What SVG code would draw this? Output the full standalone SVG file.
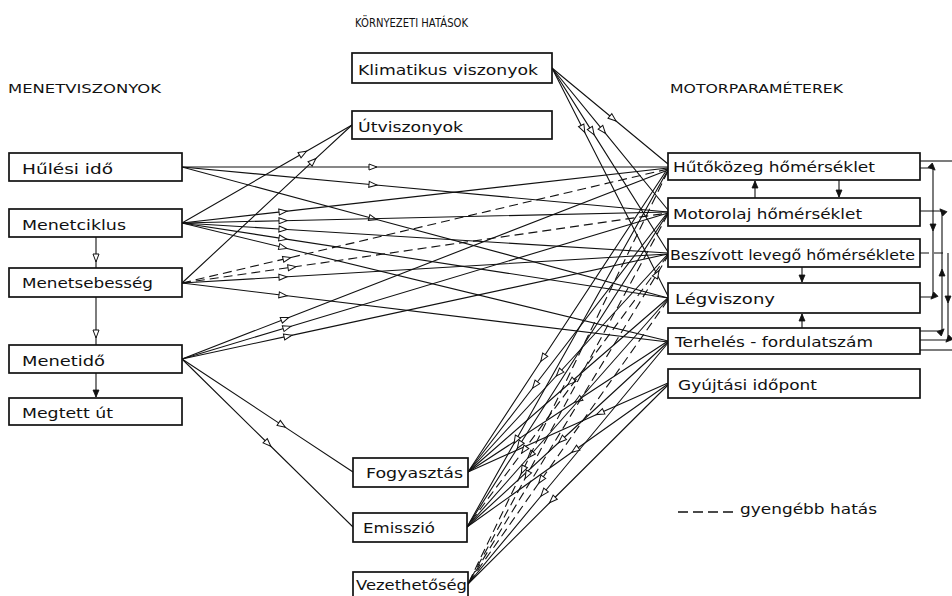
<svg xmlns="http://www.w3.org/2000/svg" width="952" height="596" viewBox="0 0 952 596">
<defs>
<marker id="oa" markerUnits="userSpaceOnUse" markerWidth="12" markerHeight="10" refX="4" refY="3" orient="auto" overflow="visible">
<path d="M0,0 L8,3 L0,6 z" fill="#fff" stroke="#111" stroke-width="1"/>
</marker>
<marker id="fa" markerUnits="userSpaceOnUse" markerWidth="12" markerHeight="10" refX="4" refY="3" orient="auto" overflow="visible">
<path d="M0,0 L7,3 L0,6 z" fill="#111" stroke="#111" stroke-width="0.8"/>
</marker>
<marker id="fe" markerUnits="userSpaceOnUse" markerWidth="12" markerHeight="10" refX="7" refY="3" orient="auto" overflow="visible">
<path d="M0,0 L7,3 L0,6 z" fill="#111" stroke="#111" stroke-width="0.8"/>
</marker>
</defs>
<style>
rect.b{fill:#fff;stroke:#111;stroke-width:1.7}
text{font-family:"DejaVu Sans","Liberation Sans",sans-serif;fill:#111}
.t{font-size:14.5px}
.h{font-size:12.5px}
#connectors path{fill:none;stroke:#111;stroke-width:1.1}
#connectors path.c{marker-mid:url(#oa)}
#connectors path.d{stroke-dasharray:9 5}
#connectors path.f{marker-mid:url(#fa)}
</style>

<g id="headings">
<text class="h" x="355" y="27" textLength="113" lengthAdjust="spacingAndGlyphs">KÖRNYEZETI  HATÁSOK</text>
<text class="h" x="8" y="93" textLength="153" lengthAdjust="spacingAndGlyphs">MENETVISZONYOK</text>
<text class="h" x="670" y="93" textLength="173" lengthAdjust="spacingAndGlyphs">MOTORPARAMÉTEREK</text>
</g>

<g id="connectors">
<path class="c" d="M182,167 L373,167 L668,167"/>
<path class="c" d="M182,167 L373,184.7 L668,212"/>
<path class="c" d="M182,167 L373,218.5 L668,298"/>
<path class="c" d="M182,223 L303,153.2 L352,125"/>
<path class="c" d="M182,223 L283,211.6 L668,168"/>
<path class="c" d="M182,223 L283,220.7 L668,212"/>
<path class="c" d="M182,223 L283,229.2 L668,253"/>
<path class="c" d="M182,223 L283,238.6 L668,298"/>
<path class="c" d="M182,223 L283,247.5 L668,341"/>
<path class="c" d="M182,283 L313,161.2 L352,125"/>
<path class="c d" d="M182,283 L287,258.4 L668,169"/>
<path class="c d" d="M182,283 L292,267.2 L668,213"/>
<path class="c" d="M182,283 L283,277 L668,254"/>
<path class="c" d="M182,283 L283,295.3 L668,342"/>
<path class="c" d="M182,359 L285,318.9 L668,170"/>
<path class="c" d="M182,359 L287,327.5 L668,213"/>
<path class="c" d="M182,359 L288,336.1 L668,254"/>
<path class="c" d="M182,359 L282,425.1 L353,472"/>
<path class="c" d="M182,359 L268,443.5 L353,527"/>
<path class="c" d="M552,68 L613,118.5 L668,164"/>
<path class="c" d="M552,68 L603,130.4 L668,210"/>
<path class="c" d="M552,68 L592,131.4 L668,252"/>
<path class="c" d="M552,68 L583,128.9 L668,296"/>
<path class="c" d="M668,168 L543,358 L468,472"/>
<path class="c" d="M668,212 L535,385 L468,472"/>
<path class="c" d="M668,254 L559,373 L468,472"/>
<path class="c" d="M668,298 L571,382 L468,472"/>
<path class="c" d="M668,341 L578,400 L468,472"/>
<path class="c" d="M668,383 L600,413 L468,472"/>
<path class="c" d="M668,170 L516,440 L467,527"/>
<path class="c" d="M668,213 L519.5,445 L467,527"/>
<path class="c d" d="M668,255 L524,450 L467,527"/>
<path class="c" d="M668,299 L530.5,455 L467,527"/>
<path class="c" d="M668,342 L561.5,440 L467,527"/>
<path class="c" d="M668,384 L575,450 L467,527"/>
<path class="c d" d="M668,171 L523,470 L468,584"/>
<path class="c d" d="M668,214 L527,475 L468,584"/>
<path class="c d" d="M468,584 L657,274 L668,256"/>
<path class="c d" d="M668,300 L541,480 L468,584"/>
<path class="c" d="M668,343 L543.5,493 L468,584"/>
<path class="c" d="M668,385 L552.4,500 L468,584"/>
<path class="c" d="M96,237 L96,258 L96,268"/>
<path class="c" d="M96,297 L96,334 L96,345"/>
<path style="marker-end:url(#fe)" d="M96,373 L96,397"/>
<path style="marker-end:url(#fe)" d="M755,198 L755,181"/>
<path style="marker-end:url(#fe)" d="M839,180 L839,197"/>
<path style="marker-end:url(#fe)" d="M802,267 L802,282"/>
<path style="marker-end:url(#fe)" d="M802,328 L802,314"/>
<path d="M920,161 L952,161"/>
<path class="f" d="M920,168 L933,168 L933,228 L933,297 L920,297"/>
<path class="f" d="M920,331 L942,331 L942,272 L942,211 L920,211"/>
<path class="d" d="M920,253 L948,253"/>
<path class="f" d="M948,253 L948,300 L948,340 L920,340"/>
<path d="M920,350 L952,350"/>
</g>

<g id="menetviszonyok">
<g id="n-hulesi"><rect class="b" x="9" y="153" width="173" height="28"/><text class="t" x="22" y="174" textLength="91" lengthAdjust="spacingAndGlyphs">Hűlési  idő</text></g>
<g id="n-menetciklus"><rect class="b" x="9" y="209" width="173" height="28"/><text class="t" x="22" y="230" textLength="104" lengthAdjust="spacingAndGlyphs">Menetciklus</text></g>
<g id="n-menetsebesseg"><rect class="b" x="9" y="268" width="173" height="29"/><text class="t" x="22" y="288" textLength="131" lengthAdjust="spacingAndGlyphs">Menetsebesség</text></g>
<g id="n-menetido"><rect class="b" x="9" y="345" width="173" height="28"/><text class="t" x="22" y="366" textLength="83" lengthAdjust="spacingAndGlyphs">Menetidő</text></g>
<g id="n-megtettut"><rect class="b" x="9" y="398" width="173" height="27"/><text class="t" x="22" y="418" textLength="91" lengthAdjust="spacingAndGlyphs">Megtett  út</text></g>
</g>

<g id="kornyezeti">
<g id="n-klimatikus"><rect class="b" x="352" y="53" width="200" height="30"/><text class="t" x="358" y="75" textLength="180" lengthAdjust="spacingAndGlyphs">Klimatikus  viszonyok</text></g>
<g id="n-utviszonyok"><rect class="b" x="352" y="111" width="200" height="28"/><text class="t" x="358" y="132" textLength="105" lengthAdjust="spacingAndGlyphs">Útviszonyok</text></g>
<g id="n-fogyasztas"><rect class="b" x="353" y="458" width="115" height="29"/><text class="t" x="366" y="478" textLength="97" lengthAdjust="spacingAndGlyphs">Fogyasztás</text></g>
<g id="n-emisszio"><rect class="b" x="353" y="513" width="114" height="29"/><text class="t" x="363" y="533" textLength="72" lengthAdjust="spacingAndGlyphs">Emisszió</text></g>
<g id="n-vezethetoseg"><rect class="b" x="353" y="572" width="115" height="28"/><text class="t" x="356" y="590" textLength="111" lengthAdjust="spacingAndGlyphs">Vezethetőség</text></g>
</g>

<g id="motorparameterek">
<g id="n-hutokozeg"><rect class="b" x="668" y="153" width="252" height="27"/><text class="t" x="673" y="172" textLength="202" lengthAdjust="spacingAndGlyphs">Hűtőközeg  hőmérséklet</text></g>
<g id="n-motorolaj"><rect class="b" x="668" y="198" width="252" height="28"/><text class="t" x="673" y="219" textLength="189" lengthAdjust="spacingAndGlyphs">Motorolaj  hőmérséklet</text></g>
<g id="n-beszivott"><rect class="b" x="668" y="239" width="252" height="28"/><text class="t" x="670" y="260" textLength="245" lengthAdjust="spacingAndGlyphs">Beszívott levegő hőmérséklete</text></g>
<g id="n-legviszony"><rect class="b" x="668" y="283" width="252" height="30"/><text class="t" x="675" y="304" textLength="100" lengthAdjust="spacingAndGlyphs">Légviszony</text></g>
<g id="n-terheles"><rect class="b" x="668" y="328" width="252" height="26"/><text class="t" x="675" y="347" textLength="198" lengthAdjust="spacingAndGlyphs">Terhelés - fordulatszám</text></g>
<g id="n-gyujtasi"><rect class="b" x="668" y="369" width="252" height="29"/><text class="t" x="678" y="390" textLength="139" lengthAdjust="spacingAndGlyphs">Gyújtási  időpont</text></g>
</g>

<g id="legend">
<path d="M678,512 L737,512" fill="none" stroke="#111" stroke-width="1.3" stroke-dasharray="10 5"/>
<text class="t" x="740" y="514" textLength="137" lengthAdjust="spacingAndGlyphs">gyengébb  hatás</text>
</g>
</svg>
